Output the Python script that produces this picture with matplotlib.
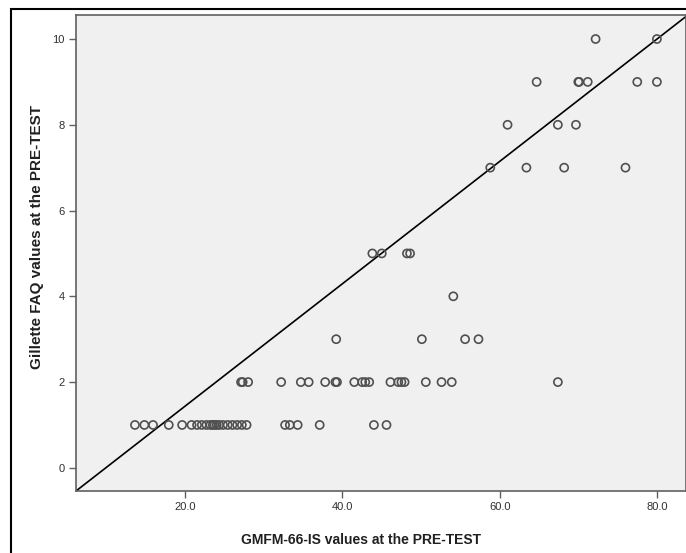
import matplotlib
matplotlib.use('Agg')
import matplotlib.pyplot as plt
from matplotlib.patches import Rectangle

# GMFM-66-IS (x) vs Gillette FAQ (y)
gmfm = [13.6, 14.8, 15.9, 17.9, 19.6, 20.8, 21.5, 22.1, 22.7, 23.2, 23.5, 23.7, 24.0,
        24.3, 24.8, 25.4, 26.0, 26.6, 27.2, 27.8, 32.7, 33.3, 34.3, 37.1, 44.0, 45.6,
        27.1, 27.3, 28.0, 32.2, 34.7, 35.7, 37.8, 39.1, 39.3, 41.5, 42.5, 42.9, 43.4,
        46.1, 47.1, 47.5, 47.9, 50.6, 52.6, 53.9, 67.4,
        39.2, 50.1, 55.6, 57.3,
        54.1,
        43.8, 45.0, 48.2, 48.6,
        58.8, 63.4, 68.2, 76.0,
        61.0, 67.4, 69.7,
        64.7, 70.0, 70.1, 71.2, 77.5, 80.0,
        72.2, 80.0]
faq = [1] * 26 + [2] * 21 + [3] * 4 + [4] + [5] * 4 + [7] * 4 + [8] * 3 + [9] * 6 + [10] * 2

# reference line (intercept, slope)
line_icpt = -1.41
line_slope = 0.1426

xticks = [20, 40, 60, 80]
yticks = [0, 2, 4, 6, 8, 10]

plt.rcParams['font.family'] = ['Liberation Sans', 'DejaVu Sans']

fig = plt.figure(figsize=(6.86, 5.53), dpi=100)
ax = fig.add_axes([76 / 686, 62 / 553, 610 / 686, 476 / 553])
ax.set_facecolor('#f0f0f0')

# outer frame
fig.patches.append(Rectangle((11 / 686, -0.05), 1.0, 1 - 9 / 553 + 0.05,
                             transform=fig.transFigure, fill=False,
                             edgecolor='black', linewidth=1.5, clip_on=False))

ax.scatter(gmfm, faq, s=34, facecolors='none', edgecolors='#505050',
           linewidths=1.2, zorder=3)
ax.axline((0, line_icpt), slope=line_slope, color='black', linewidth=1.2, zorder=2)

ax.set_xlim(6.1, 83.7)
ax.set_ylim(-0.54, 10.56)
ax.set_xticks(xticks)
ax.set_xticklabels([f'{v:.1f}' for v in xticks])
ax.set_yticks(yticks)
ax.set_yticklabels([str(v) for v in yticks])

for s in ax.spines.values():
    s.set_color('#606060')
    s.set_linewidth(1.2)
ax.tick_params(direction='out', length=5, width=1, color='#606060',
               labelsize=8, labelcolor='#303030', pad=3)

ax.set_xlabel('GMFM-66-IS values at the PRE-TEST', fontsize=10,
              fontweight='bold', color='#202020')
ax.set_ylabel('Gillette FAQ values at the PRE-TEST', fontsize=11,
              fontweight='bold', color='#202020')
ax.xaxis.set_label_coords(0.467, -0.089)
ax.yaxis.set_label_coords(-0.052, 0.534)

fig.savefig('out.png', dpi=100)
